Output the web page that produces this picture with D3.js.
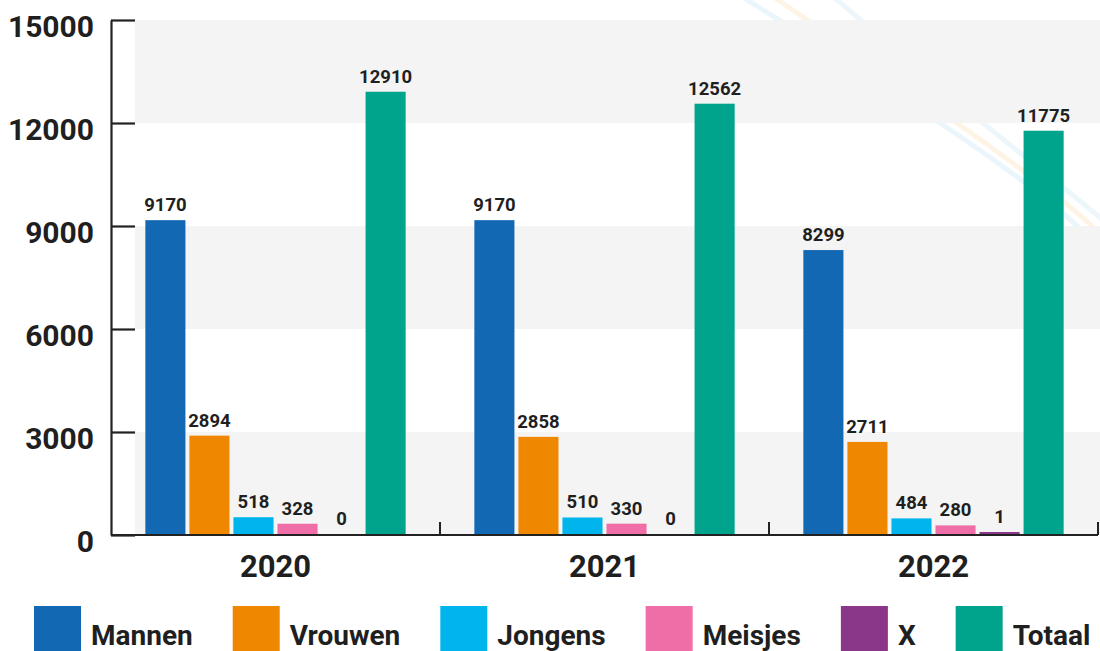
<!DOCTYPE html>
<html>
<head>
<meta charset="utf-8">
<script src="https://cdn.jsdelivr.net/npm/d3@7"></script>
<style>
  html, body { margin: 0; padding: 0; background: #ffffff; }
  svg { display: block; }
</style>
</head>
<body>
<svg id="chart" width="1100" height="651"></svg>
<script>
// ---- data ----
const years = ["2020", "2021", "2022"];
const seriesNames = ["Mannen", "Vrouwen", "Jongens", "Meisjes", "X", "Totaal"];
const mannen  = [9170, 9170, 8299];
const vrouwen = [2894, 2858, 2711];
const jongens = [518, 510, 484];
const meisjes = [328, 330, 280];
const xGroup  = [0, 0, 1];
const totaal  = [12910, 12562, 11775];
const yTicks  = [0, 3000, 6000, 9000, 12000, 15000];
const colors  = ["#1368b3", "#f08700", "#00b5ec", "#ef6ea8", "#8a3789", "#00a38b"];

const seriesValues = [mannen, vrouwen, jongens, meisjes, xGroup, totaal];
const rows = years.map((yr, i) => ({
  year: yr,
  values: seriesNames.map((s, j) => ({ key: s, value: seriesValues[j][i], color: colors[j] }))
}));

const svg = d3.select("#chart");
const W = 1100;
const textColor = "#1f1f1f";
const font = "Roboto, 'Liberation Sans', Arial, sans-serif";

// ---- scales ----
const x0 = d3.scaleBand().domain(years).range([111, 1098]).paddingInner(0).paddingOuter(0);
const x1 = d3.scaleBand().domain(seriesNames).range([0, x0.bandwidth()]).paddingInner(0.09).paddingOuter(0.78);
const y = d3.scaleLinear().domain([0, 15000]).range([535, 20]);

// ---- faint decorative arcs (background) ----
const deco = svg.append("g");
const curve = d3.line().curve(d3.curveNatural);
[
  { pts: [[744, -2], [940, 123], [1077, 226], [1120, 290]], c: "#eaf5fc" },
  { pts: [[775, -2], [957, 123], [1092, 226], [1130, 280]], c: "#fef4e6" },
  { pts: [[835, -2], [983, 123], [1110, 226], [1140, 262]], c: "#edf6fb" }
].forEach(a => {
  deco.append("path").attr("d", curve(a.pts)).attr("fill", "none")
    .attr("stroke", a.c).attr("stroke-width", 5);
});

// ---- alternating bands ----
const bandPairs = [[12000, 15000], [6000, 9000], [0, 3000]];
svg.append("g").selectAll("rect").data(bandPairs).join("rect")
  .attr("x", 135).attr("width", W - 135)
  .attr("y", d => y(d[1])).attr("height", d => y(d[0]) - y(d[1]))
  .attr("fill", "#f4f4f4");

// ---- y axis ----
const yAxis = svg.append("g").attr("transform", "translate(111,0)")
  .call(d3.axisLeft(y).tickValues(yTicks).tickSize(-24).tickSizeOuter(0).tickPadding(17).tickFormat(d3.format("d")));
yAxis.select(".domain").attr("stroke", "#222").attr("stroke-width", 2.2);
yAxis.selectAll(".tick line").attr("stroke", "#222").attr("stroke-width", 2.2);
yAxis.selectAll(".tick text")
  .attr("fill", textColor).attr("font-family", font).attr("font-weight", 700)
  .attr("font-size", 30).attr("dy", "0.56em");

// ---- bars ----
const groups = svg.append("g").selectAll("g").data(rows).join("g")
  .attr("transform", d => `translate(${x0(d.year)},0)`);

groups.selectAll("rect").data(d => d.values).join("rect")
  .attr("x", d => x1(d.key))
  .attr("width", x1.bandwidth())
  .attr("y", d => d.value > 0 ? Math.min(y(d.value), y(0) - 3) : y(0) - 1)
  .attr("height", d => d.value > 0 ? Math.max(y(0) - y(d.value), 3) : 1)
  .attr("fill", d => d.color);

groups.selectAll("text").data(d => d.values).join("text")
  .attr("x", d => x1(d.key) + x1.bandwidth() / 2)
  .attr("y", d => (d.value > 0 ? Math.min(y(d.value), y(0) - 3) : y(0) - 1) - 9)
  .attr("text-anchor", "middle")
  .attr("font-family", font).attr("font-weight", 700).attr("font-size", 18.5)
  .attr("fill", textColor)
  .text(d => d.value);

// ---- x baseline + separators ----
const xAxisG = svg.append("g");
xAxisG.append("line")
  .attr("x1", x0.range()[0]).attr("x2", x0.range()[1])
  .attr("y1", y(0)).attr("y2", y(0))
  .attr("stroke", "#222").attr("stroke-width", 2.2);
xAxisG.selectAll("line.sep").data(years).join("line").attr("class", "sep")
  .attr("x1", d => x0(d) + x0.bandwidth()).attr("x2", d => x0(d) + x0.bandwidth())
  .attr("y1", y(0)).attr("y2", y(0) - 13)
  .attr("stroke", "#222").attr("stroke-width", 2);
xAxisG.selectAll("text").data(years).join("text")
  .attr("x", d => x0(d) + x0.bandwidth() / 2)
  .attr("y", 577)
  .attr("text-anchor", "middle")
  .attr("font-family", font).attr("font-weight", 700).attr("font-size", 31)
  .attr("fill", textColor)
  .text(d => d);

// ---- legend ----
const legend = svg.append("g");
let lx = 34;
seriesNames.forEach((s, i) => {
  const g = legend.append("g");
  g.append("rect").attr("x", lx).attr("y", 606).attr("width", 47).attr("height", 47).attr("fill", colors[i]);
  const t = g.append("text").attr("x", lx + 57).attr("y", 645)
    .attr("font-family", font).attr("font-weight", 700).attr("font-size", 28)
    .attr("fill", textColor).text(s);
  const w = t.node().getComputedTextLength();
  lx = lx + 57 + w + 40;
});
</script>
</body>
</html>
